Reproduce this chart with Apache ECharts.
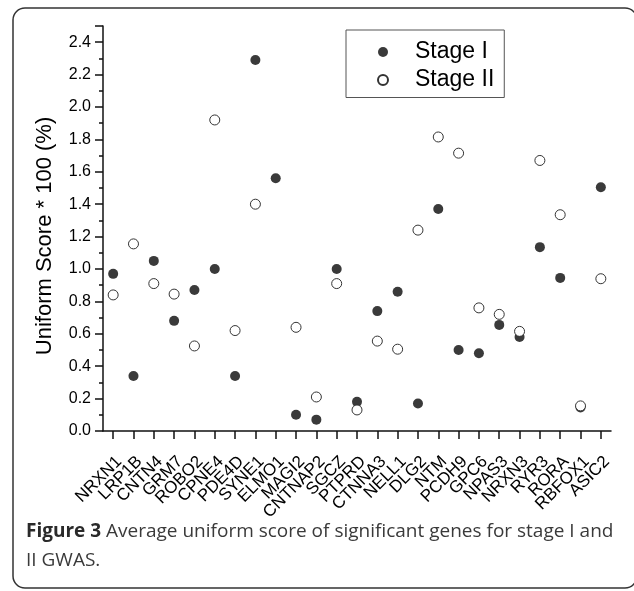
<!DOCTYPE html>
<html>
<head>
<meta charset="utf-8">
<script src="https://cdn.jsdelivr.net/npm/echarts@6/dist/echarts.min.js"></script>
<style>
    html, body { margin: 0; padding: 0; background: #fff; }
    #chart { width: 634px; height: 591px; }
</style>
</head>
<body>
<div id="chart"></div>
<script>
    // gene names on the x axis
    const genes = ['NRXN1', 'LRP1B', 'CNTN4', 'GRM7', 'ROBO2', 'CPNE4', 'PDE4D', 'SYNE1', 'ELMO1', 'MAGI2',
        'CNTNAP2', 'SGCZ', 'PTPRD', 'CTNNA3', 'NELL1', 'DLG2', 'NTM', 'PCDH9', 'GPC6', 'NPAS3',
        'NRXN3', 'RYR3', 'RORA', 'RBFOX1', 'ASIC2']
    const stageI = [0.97, 0.34, 1.05, 0.68, 0.87, 1.00, 0.34, 2.29, 1.56, 0.10,
        0.07, 1.00, 0.18, 0.74, 0.86, 0.17, 1.37, 0.50, 0.48, 0.655,
        0.58, 1.135, 0.945, 0.145, 1.505]
    // ELMO1 has no stage II point in the figure
    const stageII = [0.84, 1.155, 0.91, 0.845, 0.525, 1.92, 0.62, 1.40, null, 0.64,
        0.21, 0.91, 0.13, 0.555, 0.505, 1.24, 1.815, 1.715, 0.76, 0.72,
        0.615, 1.67, 1.335, 0.155, 0.94]
    const yMinorTicks = [0.1, 0.3, 0.5, 0.7, 0.9, 1.1, 1.3, 1.5, 1.7, 1.9, 2.1, 2.3, 2.5]

    const font = 'Liberation Sans'
    const toPoints = arr => arr.map((v, i) => [i, v]).filter(p => p[1] !== null)
    const tickStyle = {color: '#111', width: 1.5}

    const chart = echarts.init(document.getElementById('chart'))
    chart.setOption({
        animation: false,
        grid: {left: 103, right: 23, top: 26, bottom: 160},
        legend: {
            orient: 'vertical',
            left: 346,
            top: 30,
            padding: [10.5, 10, 6, 31],
            itemGap: 5,
            itemWidth: 10,
            itemHeight: 10,
            borderColor: '#555',
            borderWidth: 1,
            icon: 'circle',
            textStyle: {fontFamily: font, fontSize: 23, color: '#000', padding: [0, 0, 0, 22]},
            data: ['Stage I', 'Stage II']
        },
        xAxis: {
            type: 'category',
            data: genes,
            boundaryGap: true,
            splitLine: {show: false},
            axisLine: {show: true, lineStyle: {color: '#111', width: 1.5}},
            axisTick: {show: true, alignWithLabel: true, interval: 0, length: 8, lineStyle: tickStyle},
            axisLabel: {
                interval: 0,
                rotate: 45,
                verticalAlign: 'top',
                margin: 22,
                fontFamily: font,
                fontSize: 17,
                color: '#000'
            }
        },
        yAxis: [{
            type: 'value',
            min: 0,
            max: 2.5,
            interval: 0.2,
            splitLine: {show: false},
            axisLine: {show: true, lineStyle: {color: '#111', width: 1.5}},
            axisTick: {show: true, length: 8, lineStyle: tickStyle},
            axisLabel: {
                margin: 12,
                fontFamily: font,
                fontSize: 16,
                color: '#000',
                formatter: v => v > 2.45 ? '' : v.toFixed(1)
            }
        }, {
            // minor ticks only
            type: 'value',
            position: 'left',
            min: 0,
            max: 2.5,
            splitLine: {show: false},
            axisLine: {show: false},
            axisLabel: {show: false},
            axisTick: {show: true, length: 4, lineStyle: tickStyle, customValues: yMinorTicks}
        }],
        series: [
            {
                name: 'Stage I',
                type: 'scatter',
                symbolSize: 10,
                itemStyle: {color: '#3a3a3a', opacity: 1},
                data: toPoints(stageI)
            },
            {
                name: 'Stage II',
                type: 'scatter',
                symbolSize: 10,
                itemStyle: {color: '#fff', borderColor: '#333', borderWidth: 1, opacity: 1},
                data: toPoints(stageII)
            }
        ],
        graphic: [
            {
                type: 'rect',
                shape: {x: 13, y: 8, width: 624, height: 580, r: 12},
                style: {fill: 'none', stroke: '#333', lineWidth: 1.5},
                silent: true
            },
            {
                type: 'text',
                x: 45,
                y: 236,
                rotation: Math.PI / 2,
                style: {
                    text: 'Uniform Score * 100 (%)',
                    font: '22px "Liberation Sans"',
                    fill: '#000',
                    align: 'center',
                    verticalAlign: 'middle'
                }
            },
            {
                type: 'text',
                x: 26,
                y: 532,
                style: {
                    text: '{b|Figure 3} Average uniform score of significant genes for stage I and',
                    font: '19px "Open Sans"',
                    fill: '#3a3a3a',
                    verticalAlign: 'middle',
                    rich: {
                        b: {fontFamily: 'Open Sans', fontSize: 19, fontWeight: 'bold', fill: '#2a2a2a'}
                    }
                }
            },
            {
                type: 'text',
                x: 26,
                y: 561,
                style: {
                    text: 'II GWAS.',
                    font: '19px "Open Sans"',
                    fill: '#3a3a3a',
                    verticalAlign: 'middle'
                }
            }
        ]
    })
</script>
</body>
</html>
